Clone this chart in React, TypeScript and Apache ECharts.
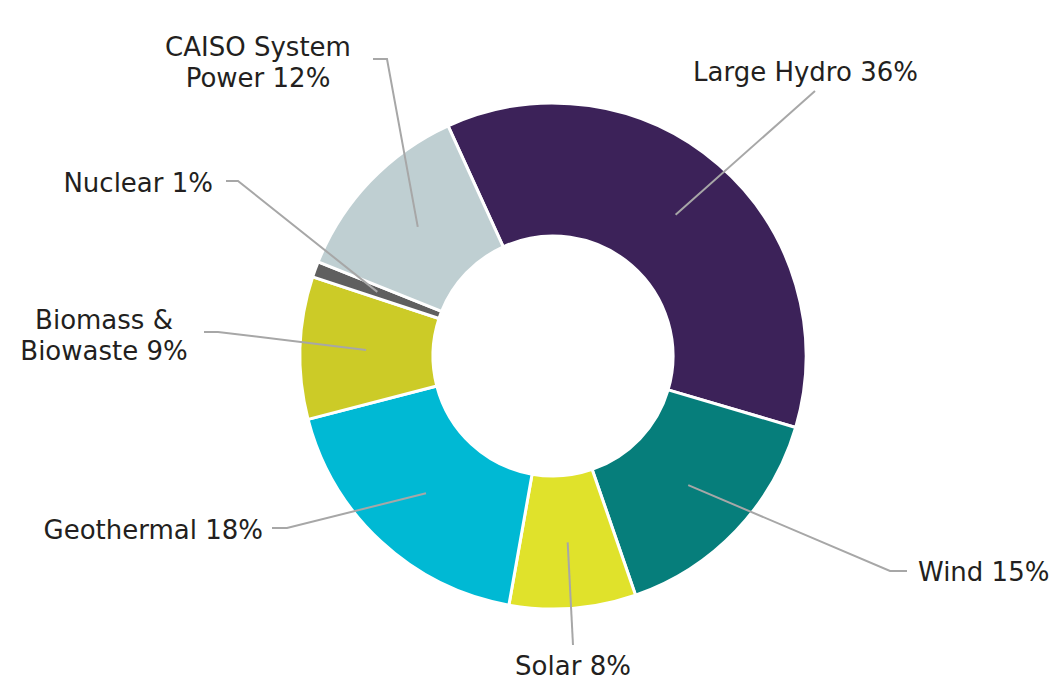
import React, { useEffect, useRef } from "react";
import * as echarts from "echarts";

// ---- data ----
const categories = [
  "Large Hydro",
  "Wind",
  "Solar",
  "Geothermal",
  "Biomass &\nBiowaste",
  "Nuclear",
  "CAISO System\nPower",
];
const shares = [36, 15, 8, 18, 9, 1, 12];
const colors = ["#3c2259", "#067e7b", "#e0e22b", "#00b9d4", "#cccb27", "#5f5f5f", "#bfcfd2"];

// ---- label placement (pixels in the 1058x680 canvas) ----
type LabelPlace = { x: number; y: number; align: string; bend: number[]; end: number[] };
const labelPlaces: LabelPlace[] = [
  { x: 693, y: 72, align: "left", bend: [815, 91], end: [815, 91] },
  { x: 918, y: 572, align: "left", bend: [890, 571], end: [907, 571] },
  { x: 573, y: 666, align: "center", bend: [573, 645], end: [573, 645] },
  { x: 263, y: 530, align: "right", bend: [287, 528], end: [272, 528] },
  { x: 104, y: 335, align: "center", bend: [218, 332], end: [204, 332] },
  { x: 213, y: 183, align: "right", bend: [238, 181], end: [226, 181] },
  { x: 258, y: 62, align: "center", bend: [387, 59], end: [373, 59] },
];

const CENTER = [553, 356];

export default function App() {
  const ref = useRef<HTMLDivElement>(null);
  useEffect(() => {
    if (!ref.current) return;
    const chart = echarts.init(ref.current, null, { renderer: "svg" });
    const data = categories.map((name, i) => ({ name, value: shares[i] }));
    chart.setOption({
      animation: false,
      backgroundColor: "#ffffff",
      series: [
        {
          type: "pie",
          center: CENTER,
          radius: [120, 253],
          startAngle: 114.5,
          clockwise: true,
          avoidLabelOverlap: false,
          silent: true,
          label: { show: false },
          labelLine: { show: false },
          itemStyle: {
            borderColor: "#ffffff",
            borderWidth: 3,
            color: (p: any) => colors[p.dataIndex],
          },
          data,
        },
        {
          type: "pie",
          center: CENTER,
          radius: [0, 187],
          startAngle: 114.5,
          clockwise: true,
          avoidLabelOverlap: false,
          silent: true,
          z: 3,
          itemStyle: { color: "rgba(0,0,0,0)" },
          label: {
            show: true,
            position: "outside",
            formatter: (p: any) => `${p.name} ${p.value}%`,
            color: "#231f20",
            fontFamily: "DejaVu Sans",
            fontSize: 26,
            lineHeight: 31,
          },
          labelLine: {
            show: true,
            length: 20,
            length2: 10,
            lineStyle: { color: "#a7a7a7", width: 2 },
          },
          labelLayout: (params: any) => {
            const lp = labelPlaces[params.dataIndex];
            const pts = params.labelLinePoints;
            const start = pts && pts[0] ? pts[0] : lp.bend;
            return {
              x: lp.x,
              y: lp.y,
              align: lp.align,
              verticalAlign: "middle",
              labelLinePoints: [start, lp.bend, lp.end],
            };
          },
          data,
        },
      ],
    });
    return () => chart.dispose();
  }, []);
  return (
    <div
      ref={ref}
      style={{ position: "absolute", left: 0, top: 0, width: 1058, height: 680 }}
    />
  );
}
